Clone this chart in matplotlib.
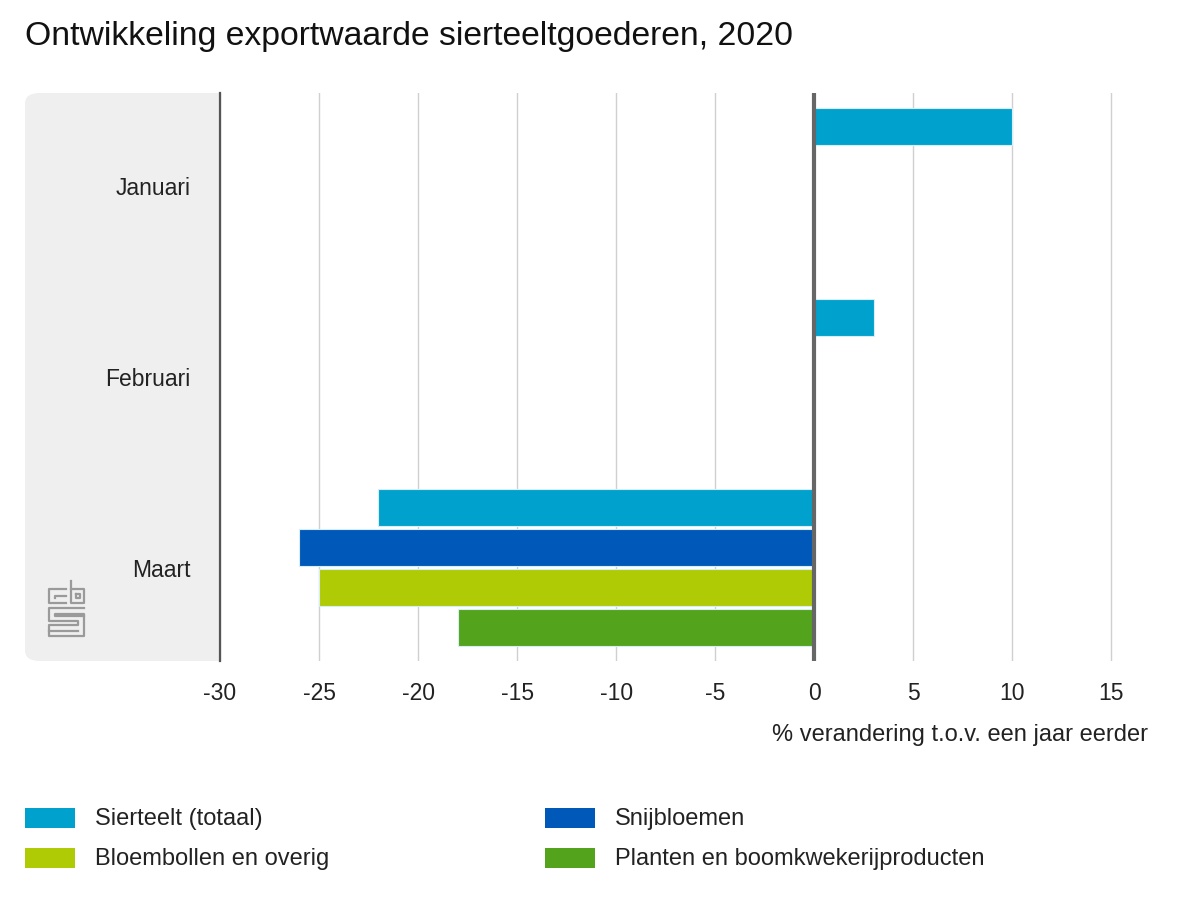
import numpy as np
import matplotlib.pyplot as plt
from matplotlib.patches import FancyBboxPatch, Rectangle

# data
months = ['Januari', 'Februari', 'Maart']
series = ['Sierteelt (totaal)', 'Snijbloemen',
          'Bloembollen en overig', 'Planten en boomkwekerijproducten']
sierteelt = [10, 3, -22]
snijbloemen = [np.nan, np.nan, -26]
bloembollen = [np.nan, np.nan, -25]
planten = [np.nan, np.nan, -18]
xticks = [-30, -25, -20, -15, -10, -5, 0, 5, 10, 15]

colors = ['#00a1cd', '#0058b8', '#afcb05', '#53a31d']

plt.rcParams['font.family'] = ['Liberation Sans', 'DejaVu Sans']

fig = plt.figure(figsize=(12, 9), dpi=100)
W, H = 1200, 900


def fx(px):
    return px / W


def fy(py):
    return 1 - py / H


# grey panel behind the category labels
panel = FancyBboxPatch((fx(25), fy(661)), fx(220) - fx(25), fy(93) - fy(661),
                       boxstyle='round,pad=0,rounding_size=0.012',
                       transform=fig.transFigure, facecolor='#efefef',
                       edgecolor='none', zorder=-2)
fig.patches.append(panel)
fig.patches.append(Rectangle((fx(190), fy(661)), fx(220) - fx(190),
                             fy(93) - fy(661), transform=fig.transFigure,
                             facecolor='#efefef', edgecolor='none', zorder=-2))

ax = fig.add_axes([fx(220), fy(661), fx(1141) - fx(220), fy(93) - fy(661)])
ax.patch.set_alpha(0)

y = np.arange(len(months))
pitch = 40 / 191
height = 37 / 191
for i, (vals, col) in enumerate(zip([sierteelt, snijbloemen, bloembollen,
                                     planten], colors)):
    ax.barh(y + (i - 1.5) * pitch, vals, height=height, color=col,
            edgecolor='#d8eef5', linewidth=0.8, label=series[i], zorder=3)

ax.set_xlim(-30, 16.5)
ax.set_ylim(2.49, -0.49)
ax.set_xticks(xticks)
ax.set_xticklabels([str(t) for t in xticks])
ax.set_yticks(y)
ax.set_yticklabels(months)
ax.tick_params(axis='x', length=0, pad=15, labelsize=16.5, colors='#222222')
ax.tick_params(axis='y', length=0, pad=21, labelsize=16.5, colors='#222222')
ax.grid(axis='x', color='#d0d0d0', linewidth=1, zorder=0)
ax.axvline(0, color='#666666', linewidth=3, zorder=4)
for s in ['top', 'right', 'bottom']:
    ax.spines[s].set_visible(False)
ax.spines['left'].set_color('#555555')
ax.spines['left'].set_linewidth(1.6)

fig.text(fx(1148), fy(735), '% verandering t.o.v. een jaar eerder',
         ha='right', va='center', fontsize=17, color='#222222')
fig.text(fx(25), fy(37), 'Ontwikkeling exportwaarde sierteeltgoederen, 2020',
         ha='left', va='center', fontsize=24.3, color='#111111')

# legend
leg_pos = [(25, 818), (545, 818), (25, 858), (545, 858)]
for (px, py), name, col in zip(leg_pos, series, colors):
    fig.patches.append(Rectangle((fx(px), fy(py + 10)), fx(50), 20 / H,
                                 transform=fig.transFigure, facecolor=col,
                                 edgecolor='none'))
    fig.text(fx(px + 70), fy(py + 1), name, ha='left', va='center',
             fontsize=17, color='#222222')

# cbs logo (rough)
logo = [
    [(66, 589), (49, 589), (49, 603), (66, 603)],
    [(66, 596), (55, 596), (55, 598)],
    [(71, 581), (71, 603), (84, 603), (84, 589), (71, 589)],
    [(76, 594), (80, 594), (80, 598), (76, 598), (76, 594)],
    [(84, 608), (49, 608), (49, 621), (78, 621), (78, 625), (49, 625),
     (49, 636), (84, 636), (84, 614), (55, 614), (55, 616), (84, 616)],
    [(49, 631), (78, 631)],
]
for line in logo:
    xs = [fx(p[0]) for p in line]
    ys = [fy(p[1]) for p in line]
    fig.add_artist(plt.Line2D(xs, ys, transform=fig.transFigure,
                              color='#9a9a9a', linewidth=1.6))

fig.savefig('out.png', dpi=100)
